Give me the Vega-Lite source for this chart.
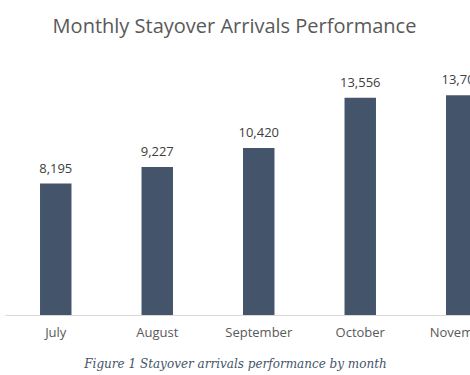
{
  "$schema": "https://vega.github.io/schema/vega-lite/v6.json",
  "autosize": {"type": "none"},
  "width": 465,
  "height": 256.5,
  "padding": {"left": 5, "top": 58.5, "right": 0, "bottom": 60},
  "background": "#ffffff",
  "title": {
    "text": "Monthly Stayover Arrivals Performance",
    "font": "Open Sans",
    "fontSize": 20,
    "fontWeight": "normal",
    "color": "#595959",
    "anchor": "middle",
    "dx": -3,
    "baseline": "alphabetic",
    "offset": 5.5
  },
  "data": {
    "values": [
      {"month": "July", "arrivals": 8195},
      {"month": "August", "arrivals": 9227},
      {"month": "September", "arrivals": 10420},
      {"month": "October", "arrivals": 13556},
      {"month": "November", "arrivals": 13705}
    ]
  },
  "encoding": {
    "x": {
      "field": "month",
      "type": "nominal",
      "sort": null,
      "scale": {"range": [0, 507.5], "paddingInner": 0.69, "paddingOuter": 0.345},
      "axis": {
        "title": "Figure 1 Stayover arrivals performance by month",
        "titleFont": "DejaVu Serif",
        "titleFontStyle": "italic",
        "titleFontWeight": "normal",
        "titleFontSize": 12,
        "titleColor": "#44546A",
        "titleX": 230,
        "titleY": 52,
        "titleBaseline": "alphabetic",
        "labelAngle": 0,
        "labelFont": "Open Sans",
        "labelFontSize": 13,
        "labelColor": "#595959",
        "labelPadding": 11,
        "ticks": false,
        "domainColor": "#D9D9D9",
        "domainWidth": 1,
        "grid": false
      }
    },
    "y": {
      "field": "arrivals",
      "type": "quantitative",
      "scale": {"domain": [0, 16000]},
      "axis": null
    }
  },
  "layer": [
    {"mark": {"type": "bar", "color": "#44546A"}},
    {
      "mark": {"type": "text", "baseline": "alphabetic", "dy": -11, "font": "Open Sans", "fontSize": 13, "color": "#404040"},
      "encoding": {"text": {"field": "arrivals", "type": "quantitative", "format": ","}}
    }
  ],
  "config": {"view": {"stroke": null}}
}
